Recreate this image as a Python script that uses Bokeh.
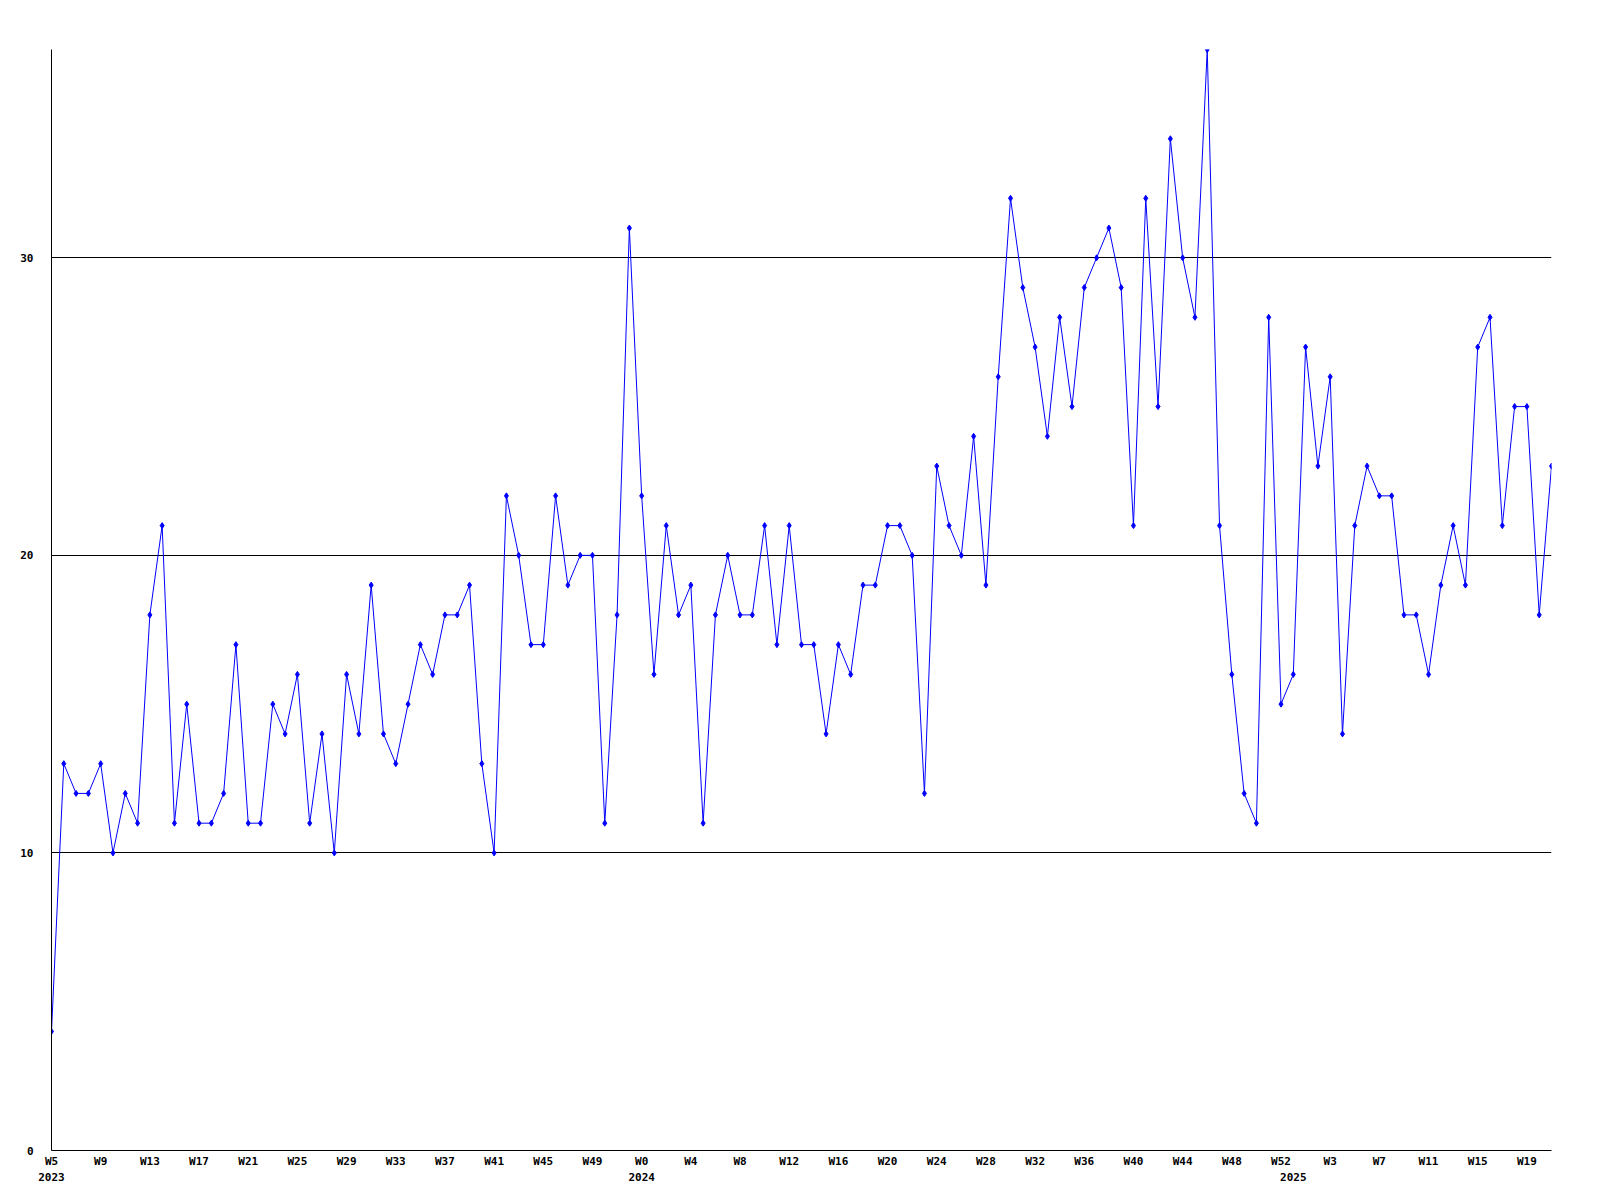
from bokeh.plotting import figure
from bokeh.models import Range1d, FixedTicker, LinearAxis, ColumnDataSource
from bokeh.embed import file_html
from bokeh.resources import INLINE

# ---- data (weekly counts) ----
years = ["2023", "2024", "2025"]
first_week = [5, 0, 0]
counts_2023 = [4, 13, 12, 12, 13, 10, 12, 11, 18, 21, 11, 15, 11, 11, 12, 17,
               11, 11, 15, 14, 16, 11, 14, 10, 16, 14, 19, 14, 13, 15, 17, 16,
               18, 18, 19, 13, 10, 22, 20, 17, 17, 22, 19, 20, 20, 11, 18, 31]
counts_2024 = [22, 16, 21, 18, 19, 11, 18, 20, 18, 18, 21, 17, 21, 17, 17, 14,
               17, 16, 19, 19, 21, 21, 20, 12, 23, 21, 20, 24, 19, 26, 32, 29,
               27, 24, 28, 25, 29, 30, 31, 29, 21, 32, 25, 34, 30, 28, 37, 21,
               16, 12, 11, 28, 15]
counts_2025 = [16, 27, 23, 26, 14, 21, 23, 22, 22, 18, 18, 16, 19, 21, 19, 27,
               28, 21, 25, 25, 18, 23]
y_ticks = [0, 10, 20, 30]

series = [counts_2023, counts_2024, counts_2025]
values, week_labels, year_starts = [], [], {}
for yr, fw, cs in zip(years, first_week, series):
    year_starts[len(values)] = yr
    for k, c in enumerate(cs):
        values.append(c)
        week_labels.append("W%d" % (fw + k))
idx = list(range(len(values)))

FONT = "DejaVu Sans Mono"

p = figure(width=1592, height=1192, output_backend="svg", toolbar_location=None,
           x_range=Range1d(0, len(values) - 1), y_range=Range1d(0, max(values)),
           min_border_left=51, min_border_right=41, min_border_top=49,
           min_border_bottom=42)
p.outline_line_color = None
p.background_fill_color = "white"
p.border_fill_color = "white"

src = ColumnDataSource(dict(x=idx, y=values))
p.line("x", "y", source=src, line_color="#0000ff", line_width=1)
p.scatter("x", "y", source=src, marker="diamond", size=6,
          fill_color="#0000ff", line_color="#0000ff")

# grid
p.xgrid.visible = False
p.ygrid.ticker = FixedTicker(ticks=y_ticks)
p.ygrid.grid_line_color = "black"
p.ygrid.grid_line_width = 1

# y axis
ya = p.yaxis[0]
ya.ticker = FixedTicker(ticks=y_ticks)
ya.axis_line_color = "black"
ya.major_tick_line_color = None
ya.minor_tick_line_color = None
ya.major_tick_out = 0
ya.major_label_standoff = 18
ya.major_label_text_font = FONT
ya.major_label_text_font_style = "bold"
ya.major_label_text_font_size = "11px"
ya.major_label_text_color = "black"

# x axis: week labels every 4 weeks
xa = p.xaxis[0]
tick_pos = idx[::4]
xa.ticker = FixedTicker(ticks=tick_pos)
xa.major_label_overrides = {i: week_labels[i] for i in tick_pos}
xa.axis_line_color = "black"
xa.major_tick_line_color = None
xa.minor_tick_line_color = None
xa.major_tick_out = 0
xa.major_label_standoff = 4
xa.major_label_text_font = FONT
xa.major_label_text_font_style = "bold"
xa.major_label_text_font_size = "11px"
xa.major_label_text_color = "black"

# year axis
yr_axis = LinearAxis(ticker=FixedTicker(ticks=list(year_starts.keys())),
                     major_label_overrides=dict(year_starts))
yr_axis.axis_line_color = None
yr_axis.major_tick_line_color = None
yr_axis.minor_tick_line_color = None
yr_axis.major_tick_out = 0
yr_axis.major_tick_in = 0
yr_axis.major_label_standoff = 2
yr_axis.major_label_text_font = FONT
yr_axis.major_label_text_font_style = "bold"
yr_axis.major_label_text_font_size = "11px"
yr_axis.major_label_text_color = "black"
p.add_layout(yr_axis, "below")

open("out.html", "w").write(file_html(p, INLINE))
